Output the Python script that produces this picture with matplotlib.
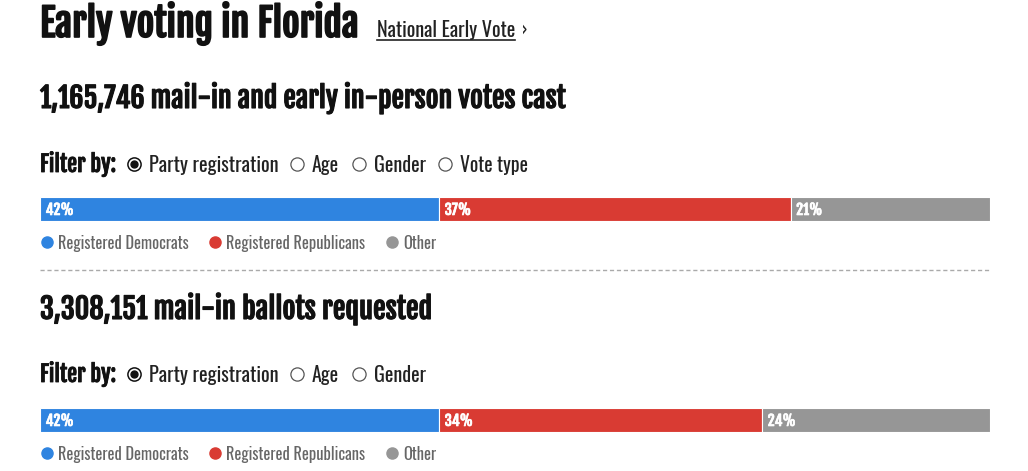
import matplotlib
matplotlib.use("Agg")
import matplotlib.pyplot as plt
from matplotlib import font_manager as fm
from matplotlib import patheffects as pe

# ---------------- data ----------------
title = "Early voting in Florida"
link_text = "National Early Vote"
categories = ["Registered Democrats", "Registered Republicans", "Other"]
cat_colors = ["#2f84e0", "#d93b33", "#969696"]
votes_cast = 1165746
ballots_requested = 3308151
cast_label = "mail-in and early in-person votes cast"
requested_label = "mail-in ballots requested"
cast_pct = [42, 37, 21]
requested_pct = [42, 34, 24]
filters_cast = ["Party registration", "Age", "Gender", "Vote type"]
filters_requested = ["Party registration", "Age", "Gender"]

# ---------------- setup ----------------
W, H = 1028, 471
names = {f.name for f in fm.fontManager.ttflist}


def pick(cands):
    for c in cands:
        if c in names:
            return c
    return "Liberation Sans"


REG = pick(["Oswald", "Roboto Condensed", "Liberation Sans"])
BOLD = pick(["Fjalla One", "Oswald", "Roboto Condensed", "Liberation Sans"])
CAP = 0.79

fig = plt.figure(figsize=(W / 100, H / 100), dpi=100)
fig.patch.set_facecolor("white")
renderer = fig.canvas.get_renderer()


def fx(x):
    return x / W


def fy(y):
    return 1 - y / H


def put(x, y, s, cap_px, target_w=None, bold=False, color="#111111", ha="left", va="baseline",
        stroke=0.0, exact=False):
    size = cap_px / CAP * 0.72
    fam = BOLD if bold else REG
    t = fig.text(fx(x), fy(y), s, fontsize=size, color=color,
                 fontweight="bold" if bold else "normal",
                 family=[fam, "DejaVu Sans"], ha=ha, va=va)
    if target_w is not None:
        bb = t.get_window_extent(renderer)
        if bb.width > target_w or exact:
            t.set_fontsize(size * target_w / bb.width)
    if stroke:
        t.set_path_effects([pe.withStroke(linewidth=stroke, foreground=color)])
    return t


# Title + link
put(40, 37, title, 29, 320, bold=True, color="#111111", stroke=1.2, exact=True)
lk = put(377, 37, link_text, 16, 140, color="#222222")
bb = lk.get_window_extent(renderer)
fig.add_artist(plt.Line2D([fx(bb.x0), fx(bb.x1)], [fy(40), fy(40)], color="#222222", lw=1.2))
put(bb.x1 + 7, 36, "›", 14, color="#222222")

filter_widths = {"Party registration": 130, "Age": 27, "Gender": 52, "Vote type": 68}
legend_widths = [131, 139, 34]


def section(y_head, number, label, head_w, y_filter, filters, filter_xs, y_bar, pct):
    put(40, y_head, f"{number:,} {label}", 24, head_w, bold=True, stroke=0.8, exact=True)
    put(40, y_filter, "Filter by:", 17, 76, bold=True, stroke=0.6, exact=True)
    for i, (name, x) in enumerate(zip(filters, filter_xs)):
        cy = y_filter - 8
        if i == 0:
            fig.add_artist(plt.Line2D([fx(x)], [fy(cy)], marker="o", ms=9.5, mfc="white",
                                      mec="#111111", mew=1.1, transform=fig.transFigure))
            fig.add_artist(plt.Line2D([fx(x)], [fy(cy)], marker="o", ms=5, mfc="#111111",
                                      mec="#111111", transform=fig.transFigure))
        else:
            fig.add_artist(plt.Line2D([fx(x)], [fy(cy)], marker="o", ms=9.5, mfc="white",
                                      mec="#555555", mew=0.9, transform=fig.transFigure))
        put(x + 15, y_filter, name, 17, filter_widths[name], color="#222222")
    ax = fig.add_axes([fx(40), fy(y_bar + 24), 950 / W, 24 / H])
    left = 0
    for p, c in zip(pct, cat_colors):
        ax.barh(0, p, left=left, height=1, color=c, edgecolor="white", linewidth=0.8)
        tt = ax.text(left + 0.6, -0.04, f"{p}%", color="white",
                     fontsize=10.5, family=[BOLD, "DejaVu Sans"], va="center", ha="left")
        tt.set_path_effects([pe.withStroke(linewidth=0.5, foreground="white")])
        left += p
    ax.set_xlim(0, 100)
    ax.set_ylim(-0.5, 0.5)
    ax.axis("off")
    y_leg = y_bar + 45
    leg_x = [47, 215, 392]
    for name, c, x, w in zip(categories, cat_colors, leg_x, legend_widths):
        fig.add_artist(plt.Line2D([fx(x)], [fy(y_leg)], marker="o", ms=8, mfc=c, mec=c,
                                  transform=fig.transFigure))
        put(x + 11, y_leg + 7, name, 13, w, color="#666666")


section(108, votes_cast, cast_label, 525, 172, filters_cast, [134, 297, 359, 445], 197, cast_pct)

fig.add_artist(plt.Line2D([fx(40), fx(990)], [fy(270), fy(270)], color="#aaaaaa", lw=1,
                          linestyle=(0, (3, 2))))

section(319, ballots_requested, requested_label, 392, 382, filters_requested, [134, 297, 359], 408,
        requested_pct)

fig.savefig("out.png", dpi=100, facecolor="white")
